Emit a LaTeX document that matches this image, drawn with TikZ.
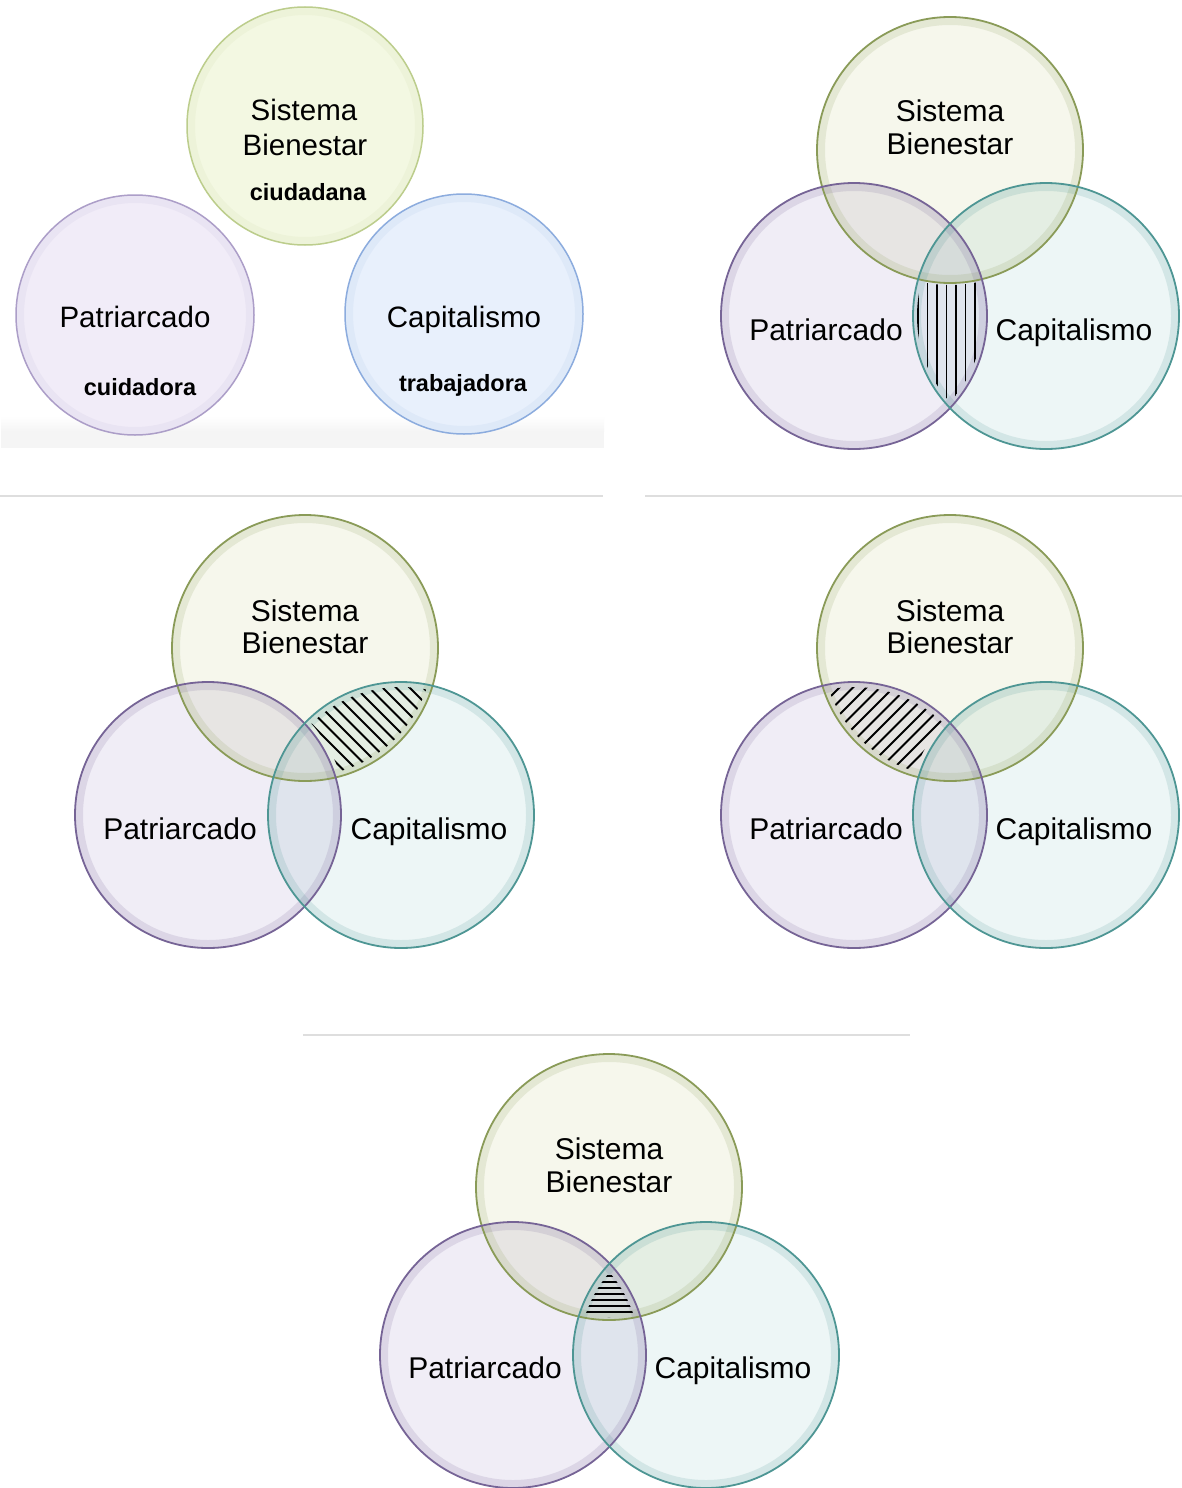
\documentclass[tikz,border=0pt]{standalone}
\usepackage{fontspec}
\setmainfont{Liberation Sans}
\definecolor{gfill}{RGB}{246,247,236}
\definecolor{gline}{RGB}{138,155,88}
\definecolor{pfill}{RGB}{240,237,246}
\definecolor{pline}{RGB}{118,100,150}
\definecolor{tfill}{RGB}{237,246,246}
\definecolor{tline}{RGB}{78,150,148}
\definecolor{agfill}{RGB}{243,248,226}
\definecolor{agline}{RGB}{188,205,140}
\definecolor{apfill}{RGB}{241,236,248}
\definecolor{apline}{RGB}{172,158,200}
\definecolor{abfill}{RGB}{232,240,252}
\definecolor{abline}{RGB}{140,172,222}
\definecolor{sepcol}{RGB}{222,222,222}
\definecolor{bandcol}{RGB}{245,245,245}
\tikzset{
  lbl/.style={font=\fontsize{30}{36}\selectfont, anchor=base, inner sep=0pt},
  lbla/.style={font=\fontsize{29.5}{36}\selectfont, anchor=base, inner sep=0pt},
  lblb/.style={font=\fontsize{23.5}{28}\selectfont\bfseries, anchor=base, inner sep=0pt},
  hatchline/.style={line width=1.8pt, black},
  sepline/.style={draw=sepcol, line width=1.6pt},
  glow/.style={line width=8pt, opacity=0.16},
  rim/.style={line width=1.8pt}
}
% #1,#2 green centre; #3,#4 purple centre; #5,#6 teal centre
\newcommand{\vennpanel}[6]{%
  \begin{scope}[blend mode=multiply]
    \fill[gfill] (#1,#2) circle[radius=133pt];
    \fill[pfill] (#3,#4) circle[radius=133pt];
    \fill[tfill] (#5,#6) circle[radius=133pt];
  \end{scope}
  \draw[gline, glow] (#1,#2) circle[radius=129pt];
  \draw[pline, glow] (#3,#4) circle[radius=129pt];
  \draw[tline, glow] (#5,#6) circle[radius=129pt];
  \draw[gline, rim] (#1,#2) circle[radius=133pt];
  \draw[pline, rim] (#3,#4) circle[radius=133pt];
  \draw[tline, rim] (#5,#6) circle[radius=133pt];
}
\begin{document}
\begin{tikzpicture}[x=1pt,y=-1pt]
\useasboundingbox (0,0) rectangle (1182,1488);
\fill[white] (0,0) rectangle (1182,1488);

% ---------- panel 1 (top left) ----------
\shade[top color=white, bottom color=bandcol] (1,416) rectangle (604,431);
\fill[bandcol] (1,430.5) rectangle (604,448);
\fill[agfill] (305,126) ellipse[x radius=118pt, y radius=119pt];
\draw[agline, glow, opacity=0.10] (305,126) ellipse[x radius=114pt, y radius=115pt];
\draw[agline, line width=1.5pt] (305,126) ellipse[x radius=118pt, y radius=119pt];
\fill[apfill] (135,315) ellipse[x radius=119pt, y radius=120pt];
\draw[apline, glow, opacity=0.10] (135,315) ellipse[x radius=115pt, y radius=116pt];
\draw[apline, line width=1.5pt] (135,315) ellipse[x radius=119pt, y radius=120pt];
\fill[abfill] (464,314) ellipse[x radius=119pt, y radius=120pt];
\draw[abline, glow, opacity=0.10] (464,314) ellipse[x radius=115pt, y radius=116pt];
\draw[abline, line width=1.5pt] (464,314) ellipse[x radius=119pt, y radius=120pt];
\node[lbla] (a1) at (304,120.5) {Sistema};
\node[lbla] (a2) at (305,155.5) {Bienestar};
\node[lblb] (a3) at (308,200) {ciudadana};
\node[lbla] (a4) at (135,327) {Patriarcado};
\node[lblb] (a5) at (140,395) {cuidadora};
\node[lbla] (a6) at (464,327) {Capitalismo};
\node[lblb] (a7) at (463,391) {trabajadora};

% ---------- panel 2 (top right) ----------
\vennpanel{950}{150}{854}{316}{1046}{316}
\begin{scope}
  \clip (854,316) circle[radius=129pt];
  \clip (1046,316) circle[radius=129pt];
  \begin{scope}[even odd rule]
    \clip (0,0) rectangle (1182,1488) (950,150) circle[radius=135pt];
    \foreach \x in {918,927.5,...,978} \draw[hatchline] (\x,270) -- (\x,420);
  \end{scope}
\end{scope}
\node[lbl] (b1) at (950,121) {Sistema};
\node[lbl] (b2) at (950,154) {Bienestar};
\node[lbl] (b3) at (826,340) {Patriarcado};
\node[lbl] (b4) at (1074,340) {Capitalismo};

% ---------- separators ----------
\draw[sepline] (0,496) -- (603,496);
\draw[sepline] (645,496) -- (1182,496);
\draw[sepline] (303,1035) -- (910,1035);

% ---------- panel 3 (middle left) ----------
\vennpanel{305}{648}{208}{815}{401}{815}
\begin{scope}
  \clip (305,648) circle[radius=128pt];
  \clip (401,815) circle[radius=128pt];
  \begin{scope}[even odd rule]
    \clip (0,0) rectangle (1182,1488) (208,815) circle[radius=138pt];
    \foreach \x in {200,213.5,...,410} \draw[hatchline] (\x,640) -- ++(170,170);
  \end{scope}
\end{scope}
\node[lbl] (c1) at (305,621) {Sistema};
\node[lbl] (c2) at (305,653) {Bienestar};
\node[lbl] (c3) at (180,839) {Patriarcado};
\node[lbl] (c4) at (429,839) {Capitalismo};

% ---------- panel 4 (middle right) ----------
\vennpanel{950}{648}{854}{815}{1046}{815}
\begin{scope}
  \clip (950,648) circle[radius=128pt];
  \clip (854,815) circle[radius=128pt];
  \begin{scope}[even odd rule]
    \clip (0,0) rectangle (1182,1488) (1046,815) circle[radius=138pt];
    \foreach \x in {700,713.5,...,930} \draw[hatchline] (\x,800) -- ++(170,-170);
  \end{scope}
\end{scope}
\node[lbl] (d1) at (950,621) {Sistema};
\node[lbl] (d2) at (950,653) {Bienestar};
\node[lbl] (d3) at (826,839) {Patriarcado};
\node[lbl] (d4) at (1074,839) {Capitalismo};

% ---------- panel 5 (bottom) ----------
\vennpanel{609}{1187}{513}{1355}{706}{1355}
\begin{scope}
  \clip (609,1187) circle[radius=130pt];
  \clip (513,1355) circle[radius=127pt];
  \clip (706,1355) circle[radius=127pt];
  \foreach \y in {1276,1282,...,1319} \draw[hatchline] (550,\y) -- (670,\y);
\end{scope}
\node[lbl] (e1) at (609,1159) {Sistema};
\node[lbl] (e2) at (609,1192) {Bienestar};
\node[lbl] (e3) at (485,1378) {Patriarcado};
\node[lbl] (e4) at (733,1378) {Capitalismo};
\end{tikzpicture}
\end{document}
